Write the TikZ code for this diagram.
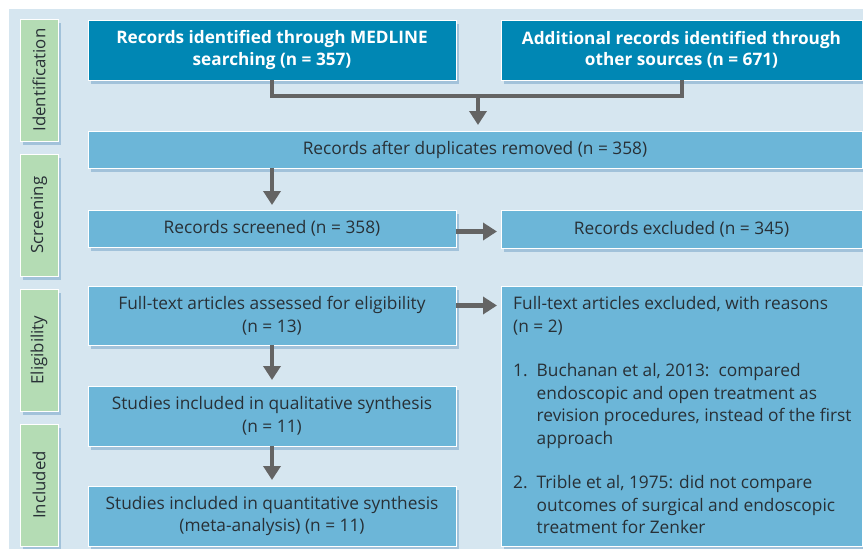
\documentclass[tikz,border=0pt]{standalone}
\usepackage{fontspec}
\setmainfont{Open Sans}
\usetikzlibrary{positioning,calc,arrows.meta,shadows}
\definecolor{PanelBlue}{RGB}{214,230,240}
\definecolor{DarkBox}{RGB}{0,135,180}
\definecolor{LightBox}{RGB}{108,182,216}
\definecolor{StageGreen}{RGB}{180,220,180}
\definecolor{ArrowGray}{RGB}{100,100,100}
\definecolor{TextGray}{RGB}{40,48,54}
\definecolor{ShadowBlue}{RGB}{120,165,200}
\tikzset{
    boxshadow/.style={drop shadow={shadow xshift=3pt, shadow yshift=-4pt, fill=ShadowBlue, opacity=0.55}},
    flowbox/.style={rectangle, draw=white, line width=1pt, anchor=north west, inner sep=4pt, outer sep=0pt, boxshadow, align=center},
    darkbox/.style={flowbox, fill=DarkBox, text=white, font=\fontsize{17.2}{21.5}\selectfont\bfseries},
    lightbox/.style={flowbox, fill=LightBox, text=TextGray, font=\fontsize{17.3}{22.5}\selectfont},
    stagebox/.style={rectangle, draw=white, line width=1pt, fill=StageGreen, text=TextGray, rotate=90, boxshadow,
        minimum width=122pt, minimum height=38pt, inner sep=0pt, font=\fontsize{16.8}{20}\selectfont},
    flowline/.style={draw=ArrowGray, line width=4pt},
    flowarrow/.style={flowline, line width=4.5pt, -{Triangle[width=17pt,length=14pt]}}
}
\begin{document}
\begin{tikzpicture}[x=1pt, y=-1pt]
    \useasboundingbox (0,0) rectangle (863,549);
    % --- nen ---
    \fill[PanelBlue] (9,9) rectangle (863,549);

    % --- cac giai doan (ben trai) ---
    \node[stagebox] (ident) at (39,80) {Identification};
    \node[stagebox] (screen) at (39,215) {Screening};
    \node[stagebox] (elig) at (39,350) {Eligibility};
    \node[stagebox] (incl) at (39,485) {Included};

    % --- identification ---
    \node[darkbox, minimum width=368pt, minimum height=60pt] (medline) at (88,20)
        {Records identified through MEDLINE\\searching (n = 357)};
    \node[darkbox, minimum width=361pt, minimum height=60pt] (other) at (501,20)
        {Additional records identified through\\other sources (n = 671)};

    % --- screening ---
    \node[lightbox, minimum width=774pt, minimum height=37pt] (dup) at (88,131)
        {Records after duplicates removed (n = 358)};
    \node[lightbox, minimum width=368pt, minimum height=37pt] (screened) at (88,210)
        {Records screened (n = 358)};
    \node[lightbox, minimum width=361pt, minimum height=38pt] (excluded) at (501,210)
        {Records excluded (n = 345)};

    % --- eligibility / included ---
    \node[lightbox, minimum width=368pt, minimum height=59pt] (assessed) at (88,286)
        {Full-text articles assessed for eligibility\\(n = 13)};
    \node[lightbox, minimum width=368pt, minimum height=60pt] (qual) at (88,386)
        {Studies included in qualitative synthesis\\(n = 11)};
    \node[lightbox, minimum width=368pt, minimum height=60pt] (quant) at (88,486)
        {Studies included in quantitative synthesis\\(meta-analysis) (n = 11)};
    \node[lightbox, minimum width=361pt, minimum height=260pt] (reasons) at (501,286) {};
    \node[anchor=north west, inner sep=0pt, text=TextGray, align=left,
        font=\fontsize{17.3}{22.5}\selectfont] (reasonstext) at (513,294)
        {\begin{tabular}[t]{@{}l@{\hspace{9pt}}l@{}}
            \multicolumn{2}{@{}l}{Full-text articles excluded, with reasons}\\
            \multicolumn{2}{@{}l}{(n = 2)}\\[22pt]
            1. & Buchanan et al, 2013:\ \ compared\\
               & endoscopic and open treatment as\\
               & revision procedures, instead of the first\\
               & approach\\[22pt]
            2. & Trible et al, 1975: did not compare\\
               & outcomes of surgical and endoscopic\\
               & treatment for Zenker
        \end{tabular}};

    % --- mui ten ---
    \coordinate (join) at (478,96);
    \draw[flowline] (medline.south) |- (join) -| (other.south);
    \draw[flowarrow] (join) -- ([yshift=6pt]join |- dup.north);
    \draw[flowarrow] (dup.south -| screened.north) -- ([yshift=5pt]screened.north);
    \draw[flowarrow] ([yshift=-3pt]screened.east) -- ([xshift=-4pt,yshift=-3pt]screened.east -| excluded.west);
    \draw[flowarrow] ([yshift=10pt]assessed.east) -- ([xshift=-4pt,yshift=10pt]assessed.east -| reasons.west);
    \draw[flowarrow] (assessed.south) -- ([yshift=6pt]qual.north);
    \draw[flowarrow] (qual.south) -- ([yshift=6pt]quant.north);
\end{tikzpicture}
\end{document}
